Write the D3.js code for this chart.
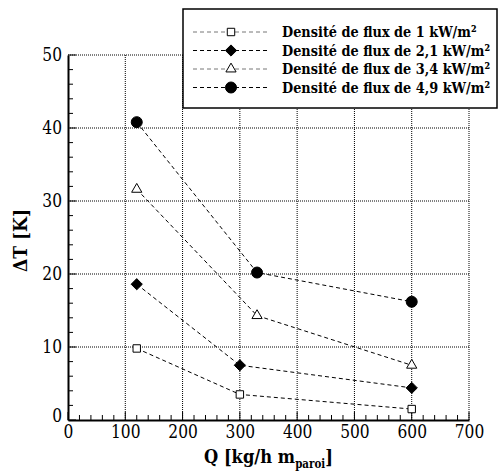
<!DOCTYPE html>
<html>
<head>
<meta charset="utf-8">
<script src="https://cdn.jsdelivr.net/npm/d3@7"></script>
<style>
  body { margin: 0; background: #fff; }
</style>
</head>
<body>
<svg id="chart" width="498" height="475"></svg>
<script>
const flowRates = [120, 300, 600];
const flowRatesHigh = [120, 330, 600];
const flux1 = [9.8, 3.5, 1.5];
const flux21 = [18.6, 7.5, 4.4];
const flux34 = [31.6, 14.3, 7.5];
const flux49 = [40.8, 20.2, 16.2];
const seriesLabels = [
  "Densité de flux de 1 kW/m²",
  "Densité de flux de 2,1 kW/m²",
  "Densité de flux de 3,4 kW/m²",
  "Densité de flux de 4,9 kW/m²"
];
const xTicks = [0, 100, 200, 300, 400, 500, 600, 700];
const yTicks = [0, 10, 20, 30, 40, 50];

// Times-like look: serif font squeezed a bit horizontally
const serif = "DejaVu Serif";

const series = [
  { label: seriesLabels[0], xs: flowRates, ys: flux1, symbol: d3.symbolSquare, size: 55, fill: "#fff" },
  { label: seriesLabels[1], xs: flowRates, ys: flux21, symbol: d3.symbolDiamond2, size: 80, fill: "#000" },
  { label: seriesLabels[2], xs: flowRatesHigh, ys: flux34, symbol: d3.symbolTriangle, size: 45, fill: "#fff" },
  { label: seriesLabels[3], xs: flowRatesHigh, ys: flux49, symbol: d3.symbolCircle, size: 95, fill: "#000" }
];

const margin = { top: 55, right: 29, bottom: 55, left: 68 };
const width = 498, height = 475;
const innerWidth = width - margin.left - margin.right;
const innerHeight = height - margin.top - margin.bottom;

const svg = d3.select("#chart");
const g = svg.append("g").attr("transform", `translate(${margin.left},${margin.top})`);

const x = d3.scaleLinear().domain([0, 700]).range([0, innerWidth]);
const y = d3.scaleLinear().domain([0, 50]).range([innerHeight, 0]);

// dotted grid
g.append("g")
  .selectAll("line")
  .data(xTicks.slice(1))
  .join("line")
  .attr("x1", d => x(d)).attr("x2", d => x(d))
  .attr("y1", 0).attr("y2", innerHeight)
  .attr("stroke", "#000").attr("stroke-width", 1).attr("stroke-dasharray", "1,1");

g.append("g")
  .selectAll("line")
  .data(yTicks.slice(1))
  .join("line")
  .attr("x1", 0).attr("x2", innerWidth)
  .attr("y1", d => y(d)).attr("y2", d => y(d))
  .attr("stroke", "#000").attr("stroke-width", 1).attr("stroke-dasharray", "1,1");

// minor ticks (inward)
const xMinor = d3.range(0, 701, 20);
const yMinor = d3.range(0, 51, 2);
g.append("g")
  .selectAll("line")
  .data(xMinor)
  .join("line")
  .attr("x1", d => x(d)).attr("x2", d => x(d))
  .attr("y1", innerHeight).attr("y2", d => innerHeight - (d % 100 === 0 ? 8 : 5))
  .attr("stroke", "#000");
g.append("g")
  .selectAll("line")
  .data(yMinor)
  .join("line")
  .attr("x1", 0).attr("x2", d => (d % 10 === 0 ? 8 : 5))
  .attr("y1", d => y(d)).attr("y2", d => y(d))
  .attr("stroke", "#000");

// axes
const xAxis = g.append("g")
  .attr("transform", `translate(0,${innerHeight})`)
  .call(d3.axisBottom(x).tickValues(xTicks).tickSize(0).tickPadding(5));
const yAxis = g.append("g")
  .call(d3.axisLeft(y).tickValues(yTicks).tickSize(0).tickPadding(7));

[xAxis, yAxis].forEach(a => {
  a.attr("font-family", serif).attr("font-size", 18);
  a.select(".domain").attr("stroke", "#000").attr("stroke-width", 2);
  a.selectAll("text")
    .attr("fill", "#000")
    .attr("transform", "scale(0.86,1)");
});
yAxis.selectAll(".tick").filter(d => d === 0).select("text").attr("dy", "0.1em");

// series lines and markers
const line = d3.line().x(d => x(d[0])).y(d => y(d[1]));
series.forEach(s => {
  const pts = s.xs.map((v, i) => [v, s.ys[i]]);
  g.append("path")
    .datum(pts)
    .attr("d", line)
    .attr("fill", "none")
    .attr("stroke", "#000")
    .attr("stroke-width", 1)
    .attr("stroke-dasharray", "4,3");
  g.selectAll(null)
    .data(pts)
    .join("path")
    .attr("transform", d => `translate(${x(d[0])},${y(d[1])})`)
    .attr("d", d3.symbol().type(s.symbol).size(s.size))
    .attr("fill", s.fill)
    .attr("stroke", "#000")
    .attr("stroke-width", 1);
});

// axis titles
const xTitle = svg.append("g")
  .attr("transform", `translate(${margin.left + innerWidth / 2},463) scale(0.86,1)`)
  .append("text")
  .attr("text-anchor", "middle")
  .attr("font-family", serif)
  .attr("font-weight", "bold")
  .attr("font-size", 19);
xTitle.append("tspan").text("Q [kg/h m");
xTitle.append("tspan").attr("font-size", 12).attr("dy", 5).text("paroi");
xTitle.append("tspan").attr("dy", -5).text("]");

svg.append("text")
  .attr("transform", `translate(27,${margin.top + innerHeight / 2 + 3}) rotate(-90) scale(0.9,1)`)
  .attr("text-anchor", "middle")
  .attr("font-family", serif)
  .attr("font-weight", "bold")
  .attr("font-size", 19)
  .text("ΔT [K]");

// legend
const legend = svg.append("g").attr("transform", "translate(183,9)");
legend.append("rect")
  .attr("x", 0).attr("y", 0)
  .attr("width", 314).attr("height", 99)
  .attr("fill", "#fff")
  .attr("stroke", "#000")
  .attr("stroke-width", 1.5);

series.forEach((s, i) => {
  const row = legend.append("g").attr("transform", `translate(0,${23 + i * 18.5})`);
  row.append("line")
    .attr("x1", 10).attr("x2", 86)
    .attr("y1", 0).attr("y2", 0)
    .attr("stroke", i % 2 === 0 ? "#777" : "#000")
    .attr("stroke-width", 1)
    .attr("stroke-dasharray", "4,3");
  row.append("path")
    .attr("transform", "translate(48,0)")
    .attr("d", d3.symbol().type(s.symbol).size(s.size))
    .attr("fill", s.fill)
    .attr("stroke", "#000");
  row.append("text")
    .attr("transform", "translate(99,5) scale(0.86,1)")
    .attr("font-family", serif)
    .attr("font-weight", "bold")
    .attr("font-size", 15)
    .text(s.label);
});
</script>
</body>
</html>
